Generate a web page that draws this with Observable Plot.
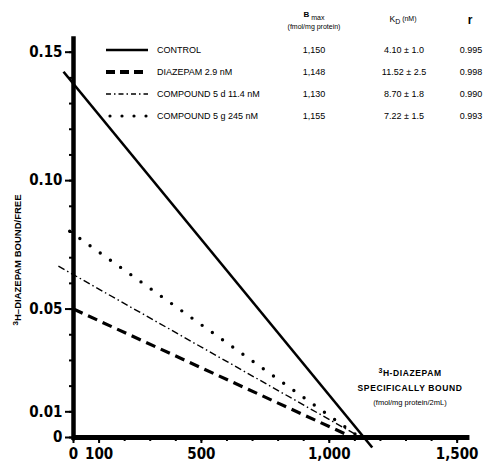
<!DOCTYPE html>
<html><head><meta charset="utf-8">
<script src="https://cdn.jsdelivr.net/npm/d3@7"></script>
<script src="https://cdn.jsdelivr.net/npm/@observablehq/plot@0.6"></script>
<style>body{margin:0;background:#fff}</style>
</head><body><div id="chart"></div>
<script>
// ---- data ----
const series = ["CONTROL", "DIAZEPAM 2.9 nM", "COMPOUND 5 d 11.4 nM", "COMPOUND 5 g 245 nM"];
const boundStart = [-39, 0, -59, -15];
const ratioStart = [0.1424, 0.050, 0.0667, 0.0803];
const boundEnd = [1168, 1060, 1110, 1109];
const ratioEnd = [-0.0039, 0.0015, 0.0008, 0.0008];
const bmax = ["1,150", "1,148", "1,130", "1,155"];
const kd = ["4.10 \u00b1 1.0", "11.52 \u00b1 2.5", "8.70 \u00b1 1.8", "7.22 \u00b1 1.5"];
const rValues = ["0.995", "0.998", "0.990", "0.993"];
const yTicks = [0, 0.01, 0.05, 0.10, 0.15];
const yTickLabels = ["0", "0.01", "0.05", "0.10", "0.15"];
const xTicks = [0, 100, 500, 1000, 1500];
const xTickLabels = ["0", "100", "500", "1,000", "1,500"];
const yMinor = d3.range(0, 16).map(i => i / 100);
const xMinor = d3.range(0, 16).map(i => i * 100);

const segments = series.map((s, i) => ({series: s, x1: boundStart[i], y1: ratioStart[i], x2: boundEnd[i], y2: ratioEnd[i]}));

const lineStyles = [
  {strokeWidth: 2.6},
  {strokeWidth: 3.2, strokeDasharray: "10,6"},
  {strokeWidth: 1.4, strokeDasharray: "7,3,1.5,3"},
  {strokeWidth: 3.4, strokeDasharray: "0,12.5", strokeLinecap: "round"}
];
const swatchStyles = [
  {w: 2.6, dash: null, cap: "butt"},
  {w: 4, dash: "9,5", cap: "butt"},
  {w: 1.4, dash: "5,3,1.5,3", cap: "butt"},
  {w: 3.2, dash: "0,12", cap: "round"}
];

const tickFont = "'DejaVu Sans Condensed', 'DejaVu Sans', sans-serif";

const plot = Plot.plot({
  width: 487, height: 464,
  marginLeft: 73, marginRight: 15, marginTop: 26, marginBottom: 27,
  x: {domain: [0, 1560]},
  y: {domain: [0, 0.16]},
  style: {fontFamily: tickFont, background: "#fff", color: "#000"},
  marks: [
    ...series.map((s, i) => Plot.link(segments.filter(d => d.series === s),
      {x1: "x1", y1: "y1", x2: "x2", y2: "y2", stroke: "#000", ...lineStyles[i]})),
    Plot.ruleX([0], {y1: -0.0012, y2: 0.156, stroke: "#000", strokeWidth: 4.5}),
    Plot.ruleY([0], {x1: -2, x2: 1550, stroke: "#000", strokeWidth: 5}),
    Plot.axisY(yMinor, {anchor: "left", tickSize: 4, tickPadding: 0, tickFormat: () => "", strokeWidth: 2}),
    Plot.axisY(yTicks, {anchor: "left", tickSize: 8, tickPadding: 3, strokeWidth: 2,
      tickFormat: d => yTickLabels[yTicks.indexOf(d)], fontSize: 15, fontWeight: "bold", fontFamily: tickFont}),
    Plot.axisX(xMinor, {anchor: "bottom", tickSize: 4, tickPadding: 0, tickFormat: () => "", strokeWidth: 2}),
    Plot.axisX(xTicks, {anchor: "bottom", tickSize: 6, tickPadding: 5, strokeWidth: 2,
      tickFormat: d => xTickLabels[xTicks.indexOf(d)], fontSize: 15, fontWeight: "bold", fontFamily: tickFont})
  ]
});

const svg = d3.select(plot);
const sans = "'Liberation Sans', Arial, sans-serif";

// legend table
const leg = svg.append("g").attr("font-family", sans).attr("fill", "#000").attr("text-anchor", "start");
series.forEach((s, i) => {
  const y = 50 + i * 22;
  const st = swatchStyles[i];
  const ln = leg.append("line").attr("x1", i === 3 ? 110 : 106).attr("x2", 148).attr("y1", y).attr("y2", y)
    .attr("stroke", "#000").attr("stroke-width", st.w).attr("stroke-linecap", st.cap);
  if (st.dash) ln.attr("stroke-dasharray", st.dash);
  leg.append("text").attr("x", 157).attr("y", y + 3.3).attr("font-size", 9).attr("text-anchor", "start").text(s);
  leg.append("text").attr("x", 314).attr("y", y + 3.3).attr("font-size", 9).attr("text-anchor", "middle").text(bmax[i]);
  leg.append("text").attr("x", 404).attr("y", y + 3.3).attr("font-size", 9).attr("text-anchor", "middle").text(kd[i]);
  leg.append("text").attr("x", 471).attr("y", y + 3.3).attr("font-size", 9).attr("text-anchor", "middle").text(rValues[i]);
});

// headers
const h1 = leg.append("text").attr("x", 314).attr("y", 19).attr("text-anchor", "middle").attr("font-size", 8);
h1.append("tspan").attr("font-weight", "bold").attr("dy", -2).text("B");
h1.append("tspan").attr("font-size", 7).attr("dy", 3).text(" max");
leg.append("text").attr("x", 314).attr("y", 29).attr("text-anchor", "middle").attr("font-size", 7).text("(fmol/mg protein)");
const h2 = leg.append("text").attr("x", 403).attr("y", 22).attr("text-anchor", "middle").attr("font-size", 8.5);
h2.append("tspan").text("K");
h2.append("tspan").attr("font-size", 7).attr("dy", 2).text("D");
h2.append("tspan").attr("font-size", 7).attr("dy", -3).text(" (nM)");
leg.append("text").attr("x", 470).attr("y", 24).attr("text-anchor", "middle").attr("font-size", 12).attr("font-weight", "bold").text("r");

// y axis title
const yl = svg.append("text").attr("font-family", sans).attr("font-weight", "bold").attr("font-size", 9.5)
  .attr("text-anchor", "middle").attr("transform", "translate(21,260) rotate(-90)");
yl.append("tspan").attr("font-size", 8).attr("dy", -3).text("3");
yl.append("tspan").attr("dy", 3).text("H\u2013DIAZEPAM BOUND/FREE");

// annotation
const ann = svg.append("g").attr("font-family", sans).attr("text-anchor", "middle").attr("font-weight", "bold");
const a1 = ann.append("text").attr("x", 410).attr("y", 376).attr("font-size", 8.5).attr("letter-spacing", 0.6);
a1.append("tspan").attr("font-size", 7).attr("dy", -3).text("3");
a1.append("tspan").attr("dy", 3).text("H-DIAZEPAM");
ann.append("text").attr("x", 410).attr("y", 391).attr("font-size", 8.5).attr("letter-spacing", 0.6).text("SPECIFICALLY BOUND");
ann.append("text").attr("x", 410).attr("y", 405).attr("font-size", 7.5).attr("font-weight", "normal").text("(fmol/mg protein/2mL)");

document.getElementById("chart").append(plot);
</script>
</body></html>
